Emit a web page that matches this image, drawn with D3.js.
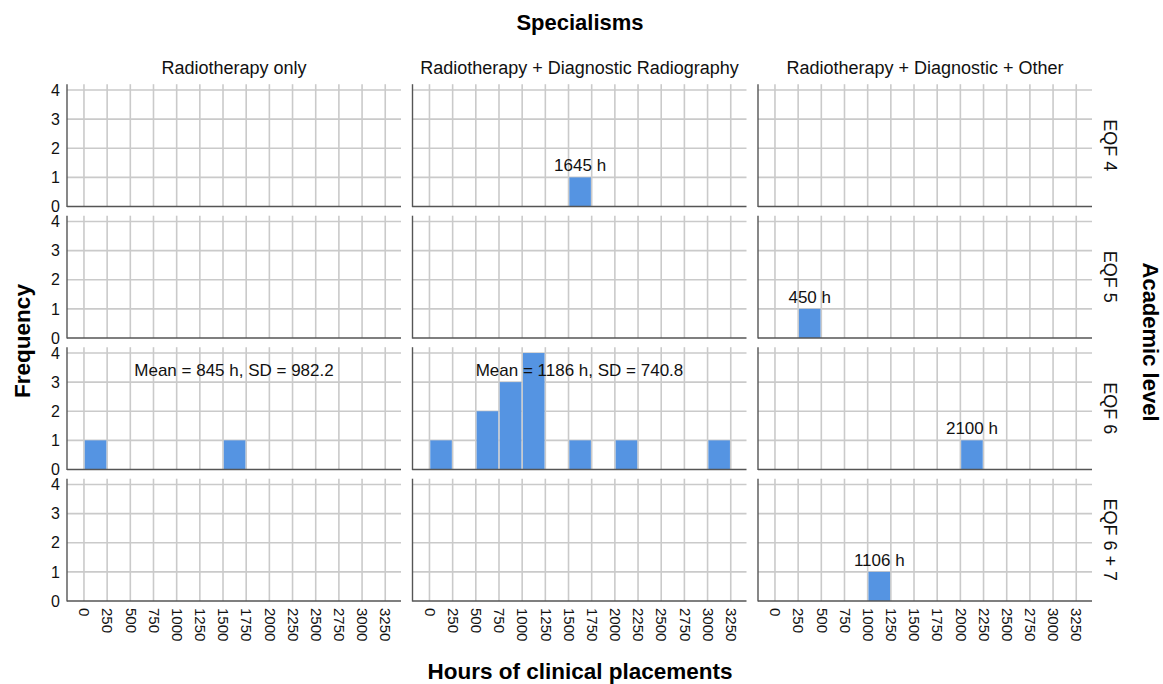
<!DOCTYPE html>
<html>
<head>
<meta charset="utf-8">
<script src="https://cdn.jsdelivr.net/npm/d3@7"></script>
<style>
  html, body { margin: 0; padding: 0; background: #ffffff; }
  svg { display: block; font-family: "Liberation Sans", Arial, sans-serif; }
</style>
</head>
<body>
<svg id="chart" width="1163" height="684"></svg>
<script>
// ---------- data ----------
const specialisms = ["Radiotherapy only", "Radiotherapy + Diagnostic Radiography", "Radiotherapy + Diagnostic + Other"];
const levels = ["EQF 4", "EQF 5", "EQF 6", "EQF 6 + 7"];
const binStarts = [0, 250, 500, 750, 1000, 1250, 1500, 1750, 2000, 2250, 2500, 2750, 3000, 3250];
const binWidth = 250;
const xTickValues = [0, 250, 500, 750, 1000, 1250, 1500, 1750, 2000, 2250, 2500, 2750, 3000, 3250];
const yTickValues = [0, 1, 2, 3, 4];

// counts per bin, one list per specialism
const countsEQF4 = [
  [0,0,0,0,0,0,0,0,0,0,0,0,0,0],
  [0,0,0,0,0,0,1,0,0,0,0,0,0,0],
  [0,0,0,0,0,0,0,0,0,0,0,0,0,0]
];
const countsEQF5 = [
  [0,0,0,0,0,0,0,0,0,0,0,0,0,0],
  [0,0,0,0,0,0,0,0,0,0,0,0,0,0],
  [0,1,0,0,0,0,0,0,0,0,0,0,0,0]
];
const countsEQF6 = [
  [1,0,0,0,0,0,1,0,0,0,0,0,0,0],
  [1,0,2,3,4,0,1,0,1,0,0,0,1,0],
  [0,0,0,0,0,0,0,0,1,0,0,0,0,0]
];
const countsEQF67 = [
  [0,0,0,0,0,0,0,0,0,0,0,0,0,0],
  [0,0,0,0,0,0,0,0,0,0,0,0,0,0],
  [0,0,0,0,1,0,0,0,0,0,0,0,0,0]
];
const allCounts = [countsEQF4, countsEQF5, countsEQF6, countsEQF67];

// single-case value labels: [row, col, value]
const valueLabels = [[0, 1, 1645], [1, 2, 450], [2, 2, 2100], [3, 2, 1106]];
// summary statistics: [row, col, mean, sd]
const summaryStats = [[2, 0, 845, "982.2"], [2, 1, 1186, "740.8"]];

// ---------- layout ----------
const svg = d3.select("#chart");
const font = "'Liberation Sans', Arial, sans-serif";
const colLeft0 = 67, colStep = 345.5, colWidth = 334;
const rowTop0 = 84.2, rowStep = 131.5, rowHeight = 122.3;
const xDomain = [-183, 3420];
const yDomain = [0, 4.2];
const barColor = "#5594E2";
const gridColor = "#cacaca";
const axisColor = "#555555";

function xScale(c) {
  const l = colLeft0 + c * colStep;
  return d3.scaleLinear().domain(xDomain).range([l, l + colWidth]);
}
function yScale(r) {
  const t = rowTop0 + r * rowStep;
  return d3.scaleLinear().domain(yDomain).range([t + rowHeight, t]);
}

for (let r = 0; r < levels.length; r++) {
  for (let c = 0; c < specialisms.length; c++) {
    const x = xScale(c), y = yScale(r);
    const g = svg.append("g");
    const [x0, x1] = x.range();
    const [yb, yt] = y.range();

    // vertical gridlines
    g.selectAll("line.vg").data(xTickValues).join("line")
      .attr("x1", d => x(d)).attr("x2", d => x(d))
      .attr("y1", yt).attr("y2", yb)
      .attr("stroke", gridColor).attr("stroke-width", 1.6);
    // horizontal gridlines
    g.selectAll("line.hg").data(yTickValues.filter(v => v > 0)).join("line")
      .attr("x1", x0).attr("x2", x1)
      .attr("y1", d => y(d)).attr("y2", d => y(d))
      .attr("stroke", gridColor).attr("stroke-width", 1.6);

    // bars
    const counts = allCounts[r][c];
    const bins = binStarts.map((s, i) => ({ s, n: counts[i] })).filter(d => d.n > 0);
    g.selectAll("rect").data(bins).join("rect")
      .attr("x", d => x(d.s) + 0.8)
      .attr("width", d => x(d.s + binWidth) - x(d.s) - 1.6)
      .attr("y", d => y(d.n))
      .attr("height", d => y(0) - y(d.n))
      .attr("fill", barColor);

    // axis lines
    g.append("line").attr("x1", x0).attr("x2", x0).attr("y1", yt).attr("y2", yb + 0.6)
      .attr("stroke", axisColor).attr("stroke-width", 1.4);
    g.append("line").attr("x1", x0).attr("x2", x1).attr("y1", yb).attr("y2", yb)
      .attr("stroke", axisColor).attr("stroke-width", 1.4);

    // y tick labels on first column
    if (c === 0) {
      const ya = g.append("g").attr("transform", `translate(${x0},0)`)
        .call(d3.axisLeft(y).tickValues(yTickValues).tickSize(0).tickPadding(7).tickFormat(d3.format("d")));
      ya.select(".domain").remove();
      ya.selectAll("text").attr("font-size", 16).attr("font-family", font).attr("fill", "#111");
    }
    // x tick labels on bottom row
    if (r === levels.length - 1) {
      const xa = g.append("g").attr("transform", `translate(0,${yb})`)
        .call(d3.axisBottom(x).tickValues(xTickValues).tickSize(0).tickFormat(d3.format("d")));
      xa.select(".domain").remove();
      xa.selectAll("text")
        .attr("transform", "rotate(90)")
        .attr("text-anchor", "start")
        .attr("x", 7).attr("y", 0).attr("dy", "0.35em")
        .attr("font-size", 15).attr("font-family", font).attr("fill", "#111");
    }
  }
}

// value labels above single bars
valueLabels.forEach(([r, c, v]) => {
  const x = xScale(c), y = yScale(r);
  const s = binStarts.find(b => v >= b && v < b + binWidth);
  svg.append("text")
    .attr("x", x(s + binWidth / 2)).attr("y", y(1) - 6)
    .attr("text-anchor", "middle").attr("font-size", 17).attr("font-family", font).attr("fill", "#111")
    .text(`${v} h`);
});

// summary statistics
summaryStats.forEach(([r, c, m, sd]) => {
  const x = xScale(c), y = yScale(r);
  const [x0, x1] = x.range();
  svg.append("text")
    .attr("x", (x0 + x1) / 2).attr("y", y(3) - 6)
    .attr("text-anchor", "middle").attr("font-size", 17).attr("font-family", font).attr("fill", "#111")
    .text(`Mean = ${m} h, SD = ${sd}`);
});

// column headers
specialisms.forEach((s, c) => {
  const [x0, x1] = xScale(c).range();
  svg.append("text").attr("x", (x0 + x1) / 2).attr("y", 74)
    .attr("text-anchor", "middle").attr("font-size", 18).attr("font-family", font).attr("fill", "#111")
    .text(s);
});

// row headers
levels.forEach((l, r) => {
  const [yb, yt] = yScale(r).range();
  const cy = (yb + yt) / 2;
  svg.append("text").attr("transform", `translate(1104,${cy}) rotate(90)`)
    .attr("text-anchor", "middle").attr("font-size", 18).attr("font-family", font).attr("fill", "#111")
    .text(l);
});

// titles
svg.append("text").attr("x", 580).attr("y", 30).attr("text-anchor", "middle")
  .attr("font-size", 22).attr("font-weight", "bold").attr("font-family", font).attr("fill", "#000")
  .text("Specialisms");
svg.append("text").attr("x", 580).attr("y", 679).attr("text-anchor", "middle")
  .attr("font-size", 22.5).attr("font-weight", "bold").attr("font-family", font).attr("fill", "#000")
  .text("Hours of clinical placements");
svg.append("text").attr("transform", "translate(30,341) rotate(-90)").attr("text-anchor", "middle")
  .attr("font-size", 22.5).attr("font-weight", "bold").attr("font-family", font).attr("fill", "#000")
  .text("Frequency");
svg.append("text").attr("transform", "translate(1143,342) rotate(90)").attr("text-anchor", "middle")
  .attr("font-size", 22).attr("font-weight", "bold").attr("font-family", font).attr("fill", "#000")
  .text("Academic level");
</script>
</body>
</html>
